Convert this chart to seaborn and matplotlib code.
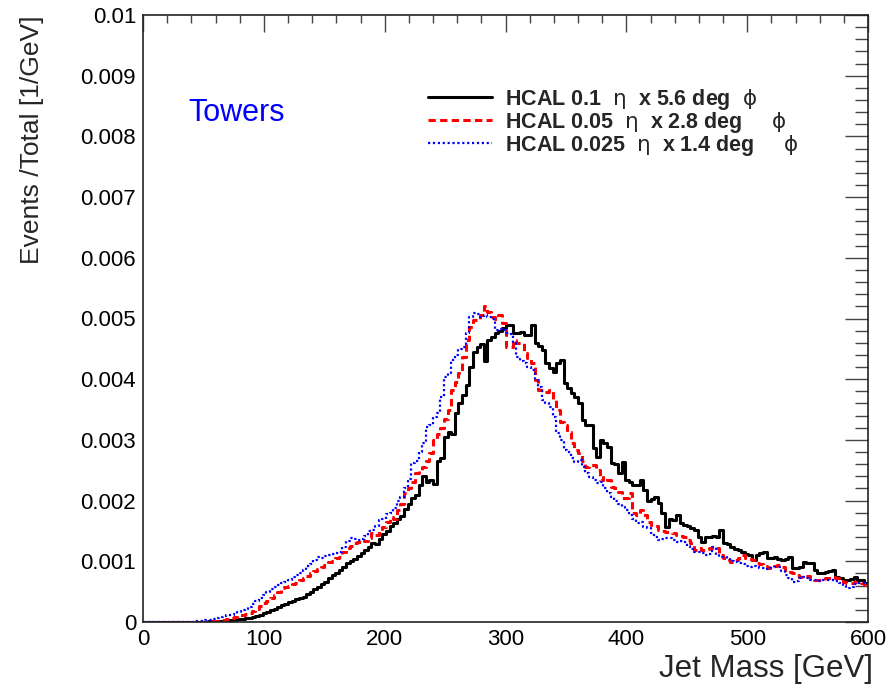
import numpy as np
import pandas as pd
import matplotlib
matplotlib.use("Agg")
import matplotlib.pyplot as plt
import seaborn as sns
from matplotlib.ticker import MultipleLocator, FuncFormatter
from matplotlib.lines import Line2D

# Jet mass histograms: 200 bins of 3 GeV from 0 to 600 GeV.
# Bin contents are given in units of 1e-4 / GeV.
bin_width = 3.0
mass_range = (0.0, 600.0)
centers = np.arange(mass_range[0] + bin_width / 2, mass_range[1], bin_width)

hcal_01 = [
    0, 0, 0, 0, 0, 0, 0, 0, 0, 0,
    0, 0, 0, 0, 0, 0, 0, 0, 0.1, 0.1,
    0.1, 0.2, 0.2, 0.3, 0.3, 0.4, 0.5, 0.5, 0.6, 0.7,
    0.9, 1.0, 1.2, 1.5, 1.6, 1.9, 2.2, 2.5, 2.8, 3.0,
    3.3, 3.5, 3.8, 4.0, 4.2, 4.6, 5.0, 5.4, 5.8, 6.2,
    6.6, 7.2, 7.7, 8.1, 8.6, 9.1, 9.7, 10.0, 10.4, 10.9,
    11.4, 11.8, 12.3, 13.0, 12.8, 13.6, 14.5, 15.0, 15.8, 16.3,
    17.0, 17.5, 18.6, 19.4, 20.5, 21.0, 22.5, 24.0, 23.0, 23.4,
    22.8, 26.5, 27.0, 30.5, 31.3, 31.0, 34.4, 36.0, 37.4, 39.0,
    42.0, 44.5, 45.3, 45.8, 43.0, 46.5, 47.0, 47.6, 48.0, 48.4,
    48.9, 49.0, 47.6, 47.6, 47.8, 47.3, 47.2, 48.9, 46.0, 45.5,
    44.8, 42.7, 41.8, 41.2, 42.6, 43.2, 39.4, 38.5, 37.8, 37.0,
    36.0, 33.3, 32.4, 32.4, 28.7, 27.2, 30.0, 29.5, 28.8, 26.2,
    26.0, 24.5, 26.3, 23.4, 23.0, 22.6, 22.6, 23.4, 21.7, 20.0,
    20.2, 20.6, 19.6, 18.0, 15.7, 17.0, 16.8, 17.6, 16.3, 16.0,
    15.8, 15.5, 15.2, 14.0, 13.2, 14.0, 14.0, 14.2, 14.0, 15.2,
    13.0, 12.8, 12.4, 12.0, 11.8, 11.5, 11.2, 11.0, 10.2, 11.0,
    11.3, 11.5, 10.5, 10.6, 10.7, 10.4, 10.2, 10.4, 10.7, 8.9,
    8.9, 9.0, 9.9, 9.8, 9.7, 8.6, 8.0, 8.1, 8.2, 8.4,
    8.6, 7.4, 7.2, 7.0, 6.9, 7.1, 7.4, 7.0, 6.9, 6.4,
]

hcal_005 = [
    0, 0, 0, 0, 0, 0, 0, 0, 0, 0,
    0, 0, 0, 0, 0, 0, 0, 0.05, 0.1, 0.1,
    0.2, 0.3, 0.4, 0.5, 0.7, 0.9, 1.1, 1.2, 1.4, 1.5,
    1.8, 2.2, 2.6, 3.1, 3.4, 3.9, 4.4, 5.0, 5.6, 5.8,
    6.0, 6.3, 6.4, 6.9, 7.3, 7.6, 8.0, 8.4, 8.7, 9.0,
    9.4, 9.9, 10.1, 10.5, 10.7, 11.5, 12.2, 12.5, 13.0, 13.2,
    13.5, 13.4, 13.8, 14.6, 14.3, 15.0, 15.7, 16.4, 17.3, 17.0,
    18.5, 19.4, 21.3, 22.0, 23.0, 24.5, 25.0, 25.5, 26.5, 27.8,
    30.0, 31.0, 32.0, 33.5, 35.0, 38.2, 39.5, 41.0, 43.7, 46.5,
    48.6, 49.8, 50.0, 50.6, 52.0, 51.0, 50.3, 50.0, 50.6, 49.2,
    45.3, 45.3, 46.5, 46.0, 46.0, 44.3, 43.5, 42.7, 39.9, 38.2,
    38.2, 37.9, 38.2, 36.6, 35.0, 33.0, 32.4, 31.3, 29.5, 28.3,
    27.8, 26.5, 25.5, 25.9, 25.9, 25.0, 23.4, 23.9, 23.4, 22.2,
    22.0, 21.4, 20.4, 20.5, 21.3, 18.0, 17.6, 18.5, 17.6, 16.5,
    16.0, 15.8, 15.2, 15.0, 14.8, 14.8, 14.6, 14.3, 14.2, 14.0,
    13.5, 13.0, 11.9, 12.2, 11.9, 12.0, 12.2, 12.3, 12.2, 11.0,
    10.5, 10.2, 9.9, 10.2, 10.6, 11.0, 10.6, 10.4, 10.2, 9.8,
    9.5, 9.2, 8.9, 9.0, 9.3, 9.4, 9.0, 8.6, 8.2, 8.0,
    7.8, 7.4, 7.6, 7.5, 7.2, 7.0, 6.9, 7.0, 7.2, 7.3,
    7.4, 7.2, 6.8, 6.6, 6.4, 6.5, 6.6, 6.6, 6.4, 6.1,
]

hcal_0025 = [
    0, 0, 0, 0, 0, 0, 0, 0, 0, 0,
    0, 0, 0, 0.05, 0.1, 0.1, 0.2, 0.3, 0.4, 0.5,
    0.6, 0.8, 1.0, 1.1, 1.2, 1.4, 1.6, 1.9, 2.2, 2.5,
    2.9, 3.5, 4.0, 4.5, 5.0, 5.4, 5.8, 6.1, 6.4, 6.6,
    7.0, 7.4, 7.7, 8.0, 8.6, 9.2, 9.6, 10.2, 10.7, 10.6,
    10.9, 11.0, 11.2, 11.4, 11.6, 12.4, 13.3, 13.8, 13.6, 13.5,
    13.7, 14.2, 15.0, 15.2, 15.8, 16.8, 17.0, 17.8, 18.0, 18.8,
    20.0, 20.6, 22.0, 23.5, 26.2, 26.5, 28.0, 29.5, 32.1, 32.5,
    33.8, 34.4, 37.0, 40.4, 41.0, 43.2, 44.0, 45.0, 45.3, 47.6,
    50.3, 50.9, 50.8, 50.3, 50.5, 50.3, 50.0, 48.1, 48.3, 48.1,
    47.6, 47.4, 46.0, 43.7, 43.0, 42.7, 42.0, 41.5, 39.9, 38.7,
    36.6, 36.0, 35.4, 33.8, 31.1, 30.0, 28.3, 28.0, 27.0, 26.4,
    26.7, 25.5, 24.5, 23.9, 23.4, 22.9, 23.0, 22.0, 21.3, 20.6,
    20.0, 19.5, 19.0, 18.4, 17.6, 17.0, 16.3, 16.5, 15.7, 15.5,
    14.6, 14.0, 13.5, 13.6, 13.8, 13.8, 13.5, 13.2, 13.4, 13.2,
    12.6, 12.0, 11.5, 11.6, 11.4, 11.0, 11.2, 12.4, 11.0, 10.7,
    10.7, 10.3, 10.0, 9.9, 9.7, 9.5, 9.3, 9.1, 9.2, 9.0,
    8.9, 8.9, 8.8, 8.9, 9.1, 9.0, 8.4, 7.8, 7.2, 6.6,
    6.8, 7.2, 7.4, 7.2, 7.0, 6.9, 6.8, 6.9, 7.0, 6.9,
    6.9, 6.7, 6.5, 6.0, 5.6, 5.8, 6.2, 6.4, 6.4, 6.4,
]

legend_labels = [
    r"HCAL 0.1  $\mathrm{\eta}$  x 5.6 deg  $\mathrm{\phi}$",
    r"HCAL 0.05  $\mathrm{\eta}$  x 2.8 deg     $\mathrm{\phi}$",
    r"HCAL 0.025  $\mathrm{\eta}$  x 1.4 deg     $\mathrm{\phi}$",
]
colors = ["#000000", "#ff0000", "#0000ff"]
widths = [2.2, 2.2, 1.6]
dash_styles = ["-", (0, (2.4, 1.4)), (0, (1.0, 1.2))]

sns.set_theme(style="white")
plt.rcParams["font.family"] = ["Liberation Sans", "DejaVu Sans"]

fig = plt.figure(figsize=(8.9, 6.86), dpi=100)
ax = fig.add_axes([143 / 890, 1 - 622 / 686, 725 / 890, 607 / 686])

frames = []
for name, vals in zip(legend_labels, [hcal_01, hcal_005, hcal_0025]):
    frames.append(pd.DataFrame({"mass": centers,
                                "weight": np.asarray(vals) * 1e-4,
                                "series": name}))
df = pd.concat(frames, ignore_index=True)

handles = []
for name, c, lw, ls in zip(legend_labels, colors, widths, dash_styles):
    sub = df[df["series"] == name]
    sns.histplot(data=sub, x="mass", weights="weight", binwidth=bin_width,
                 binrange=mass_range, element="step", fill=False, color=c,
                 linewidth=lw, linestyle=ls, ax=ax)
    handles.append(Line2D([], [], color=c, linewidth=lw, linestyle=ls))

ax.set_xlim(*mass_range)
ax.set_ylim(0, 0.01)

ax.xaxis.set_major_locator(MultipleLocator(100))
ax.xaxis.set_minor_locator(MultipleLocator(20))
ax.yaxis.set_major_locator(MultipleLocator(0.001))
ax.yaxis.set_minor_locator(MultipleLocator(0.0002))
ax.yaxis.set_major_formatter(FuncFormatter(lambda v, p: f"{v:g}"))
ax.xaxis.set_major_formatter(FuncFormatter(lambda v, p: f"{v:g}"))

ax.tick_params(axis="both", which="both", direction="in", top=True,
               right=True, color="#444444", width=1.0, labelsize=16,
               labelcolor="black")
ax.tick_params(axis="y", which="major", length=16.5, pad=5)
ax.tick_params(axis="y", which="minor", length=9.5)
ax.tick_params(axis="x", which="major", length=12, pad=5)
ax.tick_params(axis="x", which="minor", length=6)

for sp in ax.spines.values():
    sp.set_color("#222222")
    sp.set_linewidth(1.2)

ax.set_xlabel("Jet Mass [GeV]", fontsize=22.5, ha="right", va="top")
ax.xaxis.set_label_coords(1.007, -0.053)
ax.set_ylabel("Events /Total [1/GeV]", loc="top", fontsize=19, labelpad=26)

ax.legend(handles, legend_labels, loc="upper left",
          bbox_to_anchor=(428 / 890, 1 - 87 / 686),
          bbox_transform=fig.transFigure, frameon=False,
          prop={"weight": "bold", "size": 15.5}, handlelength=2.97,
          handletextpad=0.62, labelspacing=-0.1, borderpad=0,
          borderaxespad=0)

fig.text(188 / 890, 1 - 113 / 686, "Towers", color="#0000ff",
         fontsize=22, va="center", ha="left")

fig.savefig("out.png", dpi=100)
